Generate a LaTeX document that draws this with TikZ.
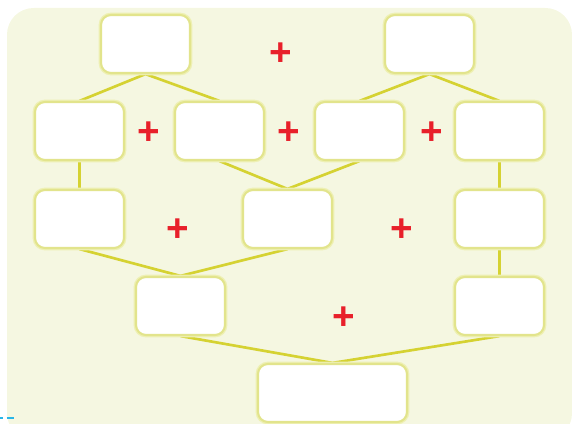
\documentclass[tikz,border=0pt]{standalone}
\usepackage{fontspec}
\newfontfamily\plusfont{Liberation Sans}
\pgfdeclarelayer{back}
\pgfdeclarelayer{background}
\pgfsetlayers{back,background,main}
\definecolor{bgcol}{HTML}{F5F7E1}
\definecolor{glowcol}{HTML}{EEF0B4}
\definecolor{bordercol}{HTML}{E2E48C}
\definecolor{linkcol}{HTML}{D5D232}
\definecolor{pluscol}{HTML}{E8202A}
\definecolor{dashcol}{HTML}{29B6E8}
\tikzset{
  x=0.75pt, y=-0.75pt,
  blank/.style={draw=bordercol, line width=1.6pt, fill=white, rounded corners=7.5pt,
    minimum width=66.75pt, minimum height=43.5pt, inner sep=0pt,
    preaction={draw=glowcol, line width=3.6pt, rounded corners=7.5pt}},
  wide/.style={blank, minimum width=111.75pt},
  link/.style={draw=linkcol, line width=2pt},
  plus/.style={text=pluscol, inner sep=0pt, yshift=-2pt, font=\plusfont\bfseries\fontsize{29}{29}\selectfont}
}
\begin{document}
\begin{tikzpicture}
\useasboundingbox (0,0) rectangle (572,424);
\begin{pgfonlayer}{back}
\fill[bgcol, rounded corners=20pt] (7,8) rectangle (572,440);
\fill[white] (0,424) rectangle (572,444);
\end{pgfonlayer}
\draw[dashcol, line width=1.5pt, dash pattern=on 2.5pt off 2.5pt on 6pt off 3pt] (0,418) -- (14,418);
% row 1
\node[blank] (t1) at (145.5,44) {};
\node[blank] (t2) at (429.5,44) {};
% row 2
\node[blank] (a) at (79.5,131) {};
\node[blank] (b) at (219.5,131) {};
\node[blank] (c) at (359.5,131) {};
\node[blank] (d) at (499.5,131) {};
% row 3
\node[blank] (e) at (79.5,219) {};
\node[blank] (f) at (287.5,219) {};
\node[blank] (g) at (499.5,219) {};
% row 4
\node[blank] (h) at (180.5,306) {};
\node[blank] (i) at (499.5,306) {};
% row 5
\node[wide] (k) at (332.5,393) {};
% plus signs
\node[plus] (p1) at (281,51) {+};
\node[plus] (p2) at (149,130) {+};
\node[plus] (p3) at (289,130) {+};
\node[plus] (p4) at (432,130) {+};
\node[plus] (p5) at (178,227) {+};
\node[plus] (p6) at (402,227) {+};
\node[plus] (p7) at (344,315) {+};
\begin{pgfonlayer}{background}
\draw[link] (a.north) -- (t1.south) -- (b.north);
\draw[link] (c.north) -- (t2.south) -- (d.north);
\draw[link] (b.south) -- (f.north) -- (c.south);
\draw[link] (a.south) -- (e.north);
\draw[link] (d.south) -- (g.north);
\draw[link] (e.south) -- (h.north) -- (f.south);
\draw[link] (g.south) -- (i.north);
\draw[link] (h.south) -- (k.north) -- (i.south);
\end{pgfonlayer}
\end{tikzpicture}
\end{document}
